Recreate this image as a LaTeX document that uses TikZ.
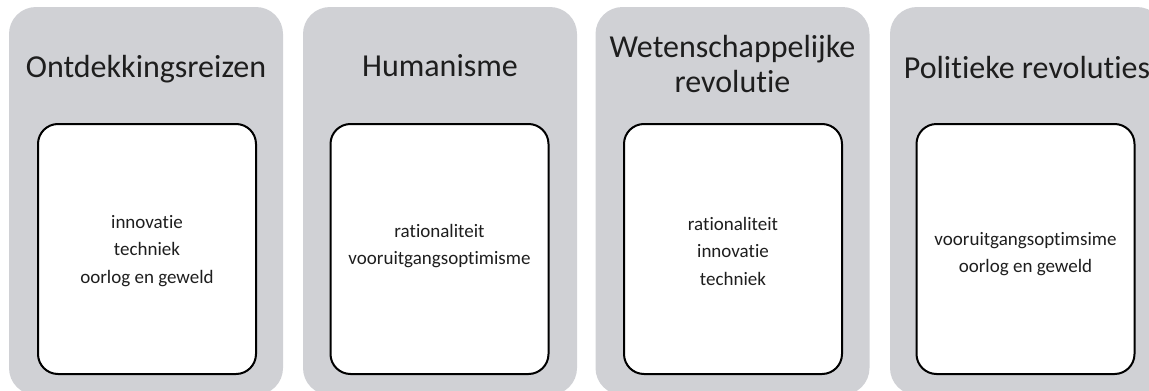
\documentclass[tikz,border=0pt]{standalone}
\usepackage{fontspec}
\setmainfont[Ligatures=NoCommon]{Carlito}
\definecolor{panelgray}{RGB}{208,209,213}
\definecolor{inkgray}{RGB}{30,30,30}
\begin{document}
\begin{tikzpicture}[x=1pt,y=-1pt,
  panel/.style={rectangle, fill=panelgray, rounded corners=27pt,
    minimum width=274pt, minimum height=388pt, inner sep=0pt},
  card/.style={rectangle, draw=black, line width=2pt, fill=white,
    rounded corners=20pt, minimum width=218pt, minimum height=250pt, inner sep=0pt},
  title/.style={font=\fontsize{32}{35}\selectfont, align=center, text=inkgray, anchor=base},
  items/.style={font=\fontsize{19}{27.5}\selectfont, align=center, text=inkgray}]
\useasboundingbox (0,0) rectangle (1149,391);

% grey columns
\node[panel] (p1) at (146,201) {};
\node[panel] (p2) at (440,201) {};
\node[panel] (p3) at (732.5,201) {};
\node[panel] (p4) at (1027,201) {};

% headings
\node[title] (t1) at (146,77) {Ontdekkingsreizen};
\node[title] (t2) at (440,76) {Humanisme};
\node[title] (t3a) at (732.5,57) {Wetenschappelijke};
\node[title] (t3b) at (732.5,92) {revolutie};
\node[title] (t4) at (1027,78) {Politieke revoluties};

% white cards
\node[card] (c1) at (147,249) {};
\node[card] (c2) at (439.5,249) {};
\node[card] (c3) at (733,249) {};
\node[card] (c4) at (1025.5,249) {};

% card contents
\node[items] (i1) at (147,251) {innovatie\\techniek\\oorlog en geweld};
\node[items] (i2) at (439.5,246) {rationaliteit\\vooruitgangsoptimisme};
\node[items] (i3) at (733,251) {rationaliteit\\innovatie\\techniek};
\node[items] (i4) at (1025.5,254) {vooruitgangsoptimsime\\oorlog en geweld};
\end{tikzpicture}
\end{document}
